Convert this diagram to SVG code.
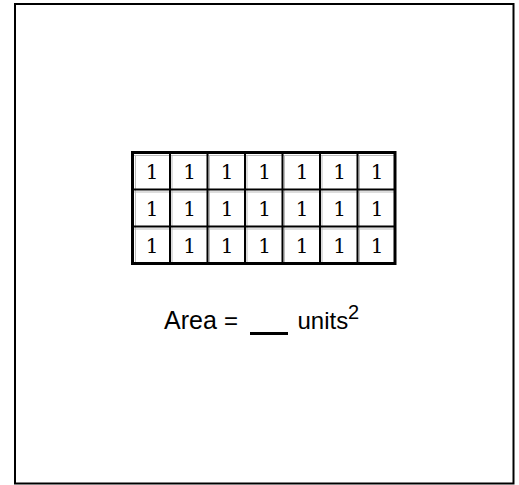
<svg xmlns="http://www.w3.org/2000/svg" width="519" height="485" viewBox="0 0 519 485">
<style>
.cell{font-family:"DejaVu Serif","Liberation Serif",serif;font-size:20px;text-anchor:middle;fill:#000}
.lbl{font-family:"Liberation Sans",Arial,sans-serif;font-size:24px;fill:#000}
.grid{stroke:#000;stroke-width:2;fill:none}
.shade{stroke:#bbb;stroke-width:1;fill:none}
</style>
<rect width="519" height="485" fill="#fff"/>
<rect id="frame" x="15" y="4" width="498.5" height="479.5" fill="none" stroke="#000" stroke-width="2"/>
<g id="grid">
<rect x="132.5" y="152.5" width="262.5" height="111" fill="#fff" stroke="none"/>
<path class="shade" d="M135.5 155V263M172 155V263M209.5 155V263M247 155V263M284.5 155V263M322 155V263M359.5 155V263M134 155.5H394M134 192H394M134 229H394"/>
<path class="grid" d="M170 152.5V263.5M207.5 152.5V263.5M245 152.5V263.5M282.5 152.5V263.5M320 152.5V263.5M357.5 152.5V263.5M132.5 189.5H395M132.5 226.5H395"/>
<rect x="132.5" y="152.5" width="262.5" height="111" fill="none" stroke="#000" stroke-width="3"/>
<g class="cell">
<text x="152" y="178.5">1</text><text x="189.5" y="178.5">1</text><text x="227" y="178.5">1</text><text x="264.5" y="178.5">1</text><text x="302" y="178.5">1</text><text x="339.5" y="178.5">1</text><text x="377" y="178.5">1</text>
<text x="152" y="215.5">1</text><text x="189.5" y="215.5">1</text><text x="227" y="215.5">1</text><text x="264.5" y="215.5">1</text><text x="302" y="215.5">1</text><text x="339.5" y="215.5">1</text><text x="377" y="215.5">1</text>
<text x="152" y="252.5">1</text><text x="189.5" y="252.5">1</text><text x="227" y="252.5">1</text><text x="264.5" y="252.5">1</text><text x="302" y="252.5">1</text><text x="339.5" y="252.5">1</text><text x="377" y="252.5">1</text>
</g>
</g>
<g id="label">
<text class="lbl" x="164" y="328.5" style="font-size:25px">Area</text>
<text class="lbl" x="224" y="328.5">=</text>
<line x1="250" y1="333.5" x2="288" y2="333.5" stroke="#000" stroke-width="3"/>
<text class="lbl" x="297.5" y="328.5">units</text>
<text class="lbl" x="348" y="319" style="font-size:20px">2</text>
</g>
</svg>
